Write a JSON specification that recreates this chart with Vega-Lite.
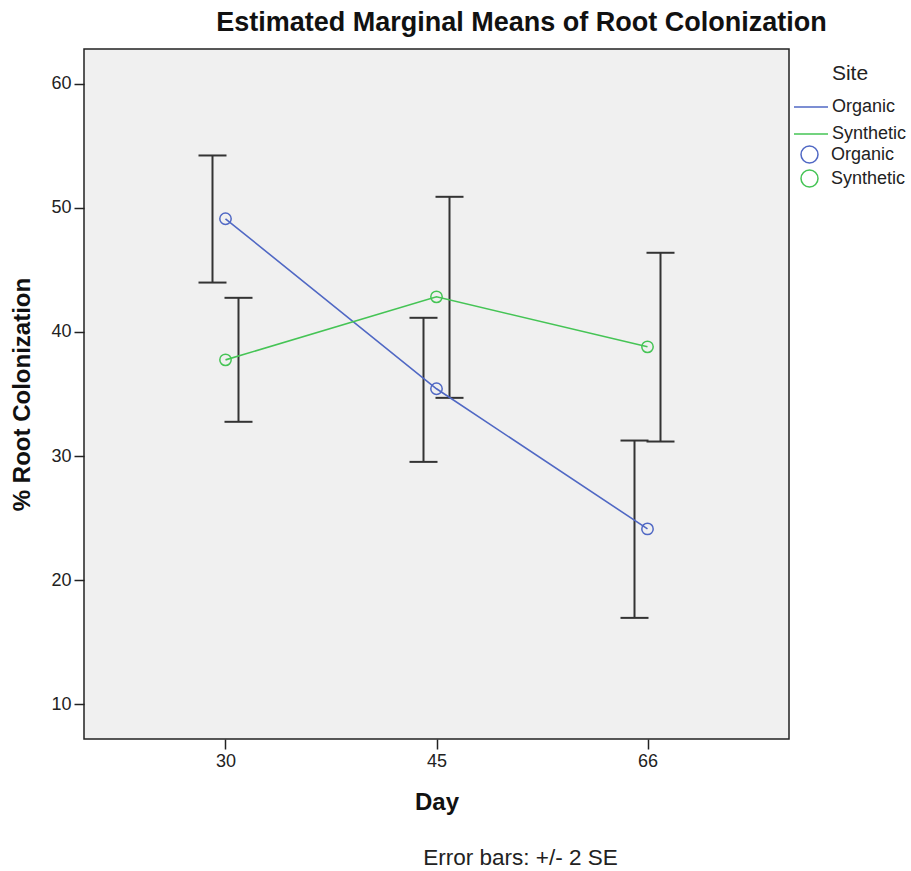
{
  "$schema": "https://vega.github.io/schema/vega-lite/v6.json",
  "background": "white",
  "padding": {"left": 10, "top": 8, "right": 0, "bottom": 3},
  "config": {
    "font": "Liberation Sans",
    "view": {"fill": "#f0f0f0", "stroke": "#222222", "strokeWidth": 1.5},
    "axis": {
      "grid": false,
      "domain": false,
      "tickColor": "#222222",
      "tickWidth": 1.5,
      "tickSize": 10,
      "labelFont": "Liberation Sans",
      "labelFontSize": 18,
      "labelColor": "#222222",
      "titleFont": "Liberation Sans",
      "titleFontSize": 24,
      "titleFontWeight": "bold",
      "titleColor": "#111111"
    },
    "legend": {
      "labelFont": "Liberation Sans",
      "labelFontSize": 18,
      "labelColor": "#222222",
      "titleFont": "Liberation Sans",
      "titleFontSize": 21,
      "titleFontWeight": "normal",
      "titleColor": "#222222",
      "padding": 0
    }
  },
  "title": {
    "text": "Error bars: +/- 2 SE",
    "orient": "bottom",
    "anchor": "start",
    "dx": 413,
    "offset": 32,
    "fontSize": 22.5,
    "fontWeight": "normal",
    "color": "#222222"
  },
  "vconcat": [
    {
      "width": 705,
      "height": 690,
      "title": {
        "text": "Estimated Marginal Means of Root Colonization",
        "anchor": "middle",
        "frame": "group",
        "dx": 85,
        "offset": 12,
        "fontSize": 27,
        "fontWeight": "bold",
        "color": "#111111"
      },
      "data": {
        "values": [
          {"Day": 30, "Site": "Organic", "mean": 49.12, "lower": 43.98, "upper": 54.22},
          {"Day": 45, "Site": "Organic", "mean": 35.42, "lower": 29.53, "upper": 41.14},
          {"Day": 66, "Site": "Organic", "mean": 24.13, "lower": 16.96, "upper": 31.25},
          {"Day": 30, "Site": "Synthetic", "mean": 37.75, "lower": 32.76, "upper": 42.75},
          {"Day": 45, "Site": "Synthetic", "mean": 42.83, "lower": 34.69, "upper": 50.89},
          {"Day": 66, "Site": "Synthetic", "mean": 38.8, "lower": 31.17, "upper": 46.38}
        ]
      },
      "encoding": {
        "x": {
          "field": "Day",
          "type": "ordinal",
          "scale": {"type": "point", "padding": 0.6706},
          "axis": {"labelAngle": 0, "title": "Day", "titlePadding": 20, "labelPadding": 3}
        }
      },
      "layer": [
        {
          "transform": [{"filter": "datum.Site === 'Organic'"}],
          "mark": {"type": "rule", "xOffset": -13, "color": "#333333", "strokeWidth": 2},
          "encoding": {
            "y": {
              "field": "lower",
              "type": "quantitative",
              "title": "% Root Colonization",
              "scale": {"domain": [7.2, 62.8], "nice": false, "zero": false},
              "axis": {"values": [10, 20, 30, 40, 50, 60], "titlePadding": 16, "labelPadding": 3}
            },
            "y2": {"field": "upper"}
          }
        },
        {
          "transform": [{"filter": "datum.Site === 'Synthetic'"}],
          "mark": {"type": "rule", "xOffset": 13, "color": "#333333", "strokeWidth": 2},
          "encoding": {
            "y": {"field": "lower", "type": "quantitative", "title": "% Root Colonization"},
            "y2": {"field": "upper"}
          }
        },
        {
          "transform": [
            {"filter": "datum.Site === 'Organic'"},
            {"fold": ["lower", "upper"], "as": ["bound", "value"]}
          ],
          "mark": {"type": "tick", "xOffset": -13, "size": 28, "thickness": 2, "color": "#333333", "opacity": 1},
          "encoding": {
            "y": {"field": "value", "type": "quantitative", "title": "% Root Colonization"}
          }
        },
        {
          "transform": [
            {"filter": "datum.Site === 'Synthetic'"},
            {"fold": ["lower", "upper"], "as": ["bound", "value"]}
          ],
          "mark": {"type": "tick", "xOffset": 13, "size": 28, "thickness": 2, "color": "#333333", "opacity": 1},
          "encoding": {
            "y": {"field": "value", "type": "quantitative", "title": "% Root Colonization"}
          }
        },
        {
          "mark": {"type": "line", "strokeWidth": 1.6},
          "encoding": {
            "y": {"field": "mean", "type": "quantitative", "title": "% Root Colonization"},
            "stroke": {
              "field": "Site",
              "type": "nominal",
              "scale": {"domain": ["Organic", "Synthetic"], "range": ["#5068c4", "#45c455"]},
              "legend": {
                "title": "Site",
                "orient": "none",
                "legendX": 709,
                "legendY": 14,
                "symbolType": "stroke",
                "symbolSize": 1156,
                "symbolStrokeWidth": 1.6,
                "labelOffset": 3,
                "titleAnchor": "middle",
                "titlePadding": 5,
                "rowPadding": -5
              }
            }
          }
        },
        {
          "mark": {"type": "point", "filled": false, "size": 130, "strokeWidth": 1.5, "opacity": 1},
          "encoding": {
            "y": {"field": "mean", "type": "quantitative", "title": "% Root Colonization"},
            "color": {
              "field": "Site",
              "type": "nominal",
              "scale": {"range": ["#5068c4", "#45c455"]},
              "legend": {
                "title": null,
                "orient": "none",
                "legendX": 716,
                "legendY": 96,
                "symbolType": "circle",
                "symbolSize": 289,
                "symbolStrokeWidth": 1.5,
                "symbolFillColor": "transparent",
                "labelOffset": 12,
                "rowPadding": 1
              }
            }
          }
        }
      ]
    }
  ]
}
